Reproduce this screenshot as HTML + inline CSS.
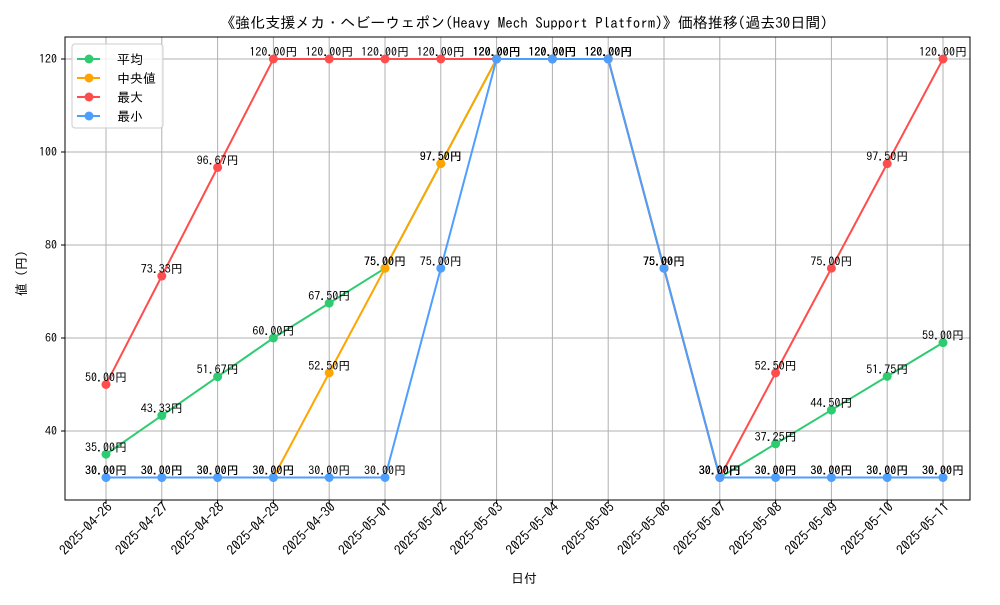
<!DOCTYPE html>
<html><head><meta charset="utf-8"><style>
body{margin:0;background:#fff;}
svg text{font-family:"IPAGothic","Liberation Sans","Noto Sans CJK JP",sans-serif;}
</style></head><body>
<svg id="chart" width="1000" height="600" xmlns="http://www.w3.org/2000/svg">
<rect width="1000" height="600" fill="#fff"/>
<text x="524" y="28" font-size="15" text-anchor="middle">《強化支援メカ・ヘビーウェポン(Heavy Mech Support Platform)》価格推移(過去30日間)</text>
<text x="524" y="583" font-size="13" text-anchor="middle">日付</text>
<text transform="translate(26,270) rotate(-90)" font-size="13" text-anchor="middle">値（円）</text>
<g id="grid"></g><g id="series"></g><g id="labels"></g>
<rect x="65" y="37" width="905" height="463" fill="none" stroke="#000" stroke-width="1"/>
<g id="legend">
<rect x="72" y="44" width="91" height="84" rx="3" fill="#fff" fill-opacity="0.8" stroke="#ccc"/>
</g>
</svg>
<script>
const dates=["2025-04-26","2025-04-27","2025-04-28","2025-04-29","2025-04-30","2025-05-01","2025-05-02","2025-05-03","2025-05-04","2025-05-05","2025-05-06","2025-05-07","2025-05-08","2025-05-09","2025-05-10","2025-05-11"];
const meanVals=[35,43.33,51.67,60,67.5,75,97.5,120,120,120,75,30,37.25,44.5,51.75,59];
const medianVals=[30,30,30,30,52.5,75,97.5,120,120,120,75,30,30,30,30,30];
const maxVals=[50,73.33,96.67,120,120,120,120,120,120,120,75,30,52.5,75,97.5,120];
const minVals=[30,30,30,30,30,30,75,120,120,120,75,30,30,30,30,30];
const yTicks=[40,60,80,100,120];
const seriesNames=["平均","中央値","最大","最小"];
const NS="http://www.w3.org/2000/svg";
function xs(i){return 106+i*(943-106)/(dates.length-1);}
function ys(v){return 59+(120-v)*(431-59)/80;}
function mk(t,a,p){const e=document.createElementNS(NS,t);for(const k in a)e.setAttribute(k,a[k]);p.appendChild(e);return e;}
const grid=document.getElementById('grid'),ser=document.getElementById('series'),lab=document.getElementById('labels'),leg=document.getElementById('legend');
dates.forEach((d,i)=>{const x=xs(i);
const g=mk('line',{x1:x,x2:x,y1:37,y2:500,stroke:'#b0b0b0','stroke-width':1},grid);


mk('line',{x1:x,x2:x,y1:500,y2:504,stroke:'#000'},grid);
const t=mk('text',{transform:`translate(${x+7},${508}) rotate(-45)`,'font-size':13.5,'text-anchor':'end'},grid);t.textContent=d;

});
yTicks.forEach(v=>{const y=ys(v);
const g=mk('line',{x1:65,x2:970,y1:y,y2:y,stroke:'#b0b0b0','stroke-width':1},grid);


mk('line',{x1:61,x2:65,y1:y,y2:y,stroke:'#000'},grid);
const t=mk('text',{x:57,y:y+4,'font-size':12,'text-anchor':'end'},grid);t.textContent=v;

});
const all=[[meanVals,'#2ecc71','mean'],[medianVals,'#ffa500','median'],[maxVals,'#ff4d4d','max'],[minVals,'#4d9fff','min']];
all.forEach(([vals,c,n],si)=>{
const pl=mk('polyline',{points:vals.map((v,i)=>xs(i)+','+ys(v)).join(' '),fill:'none',stroke:c,'stroke-width':2},ser);


vals.forEach((v,i)=>{const p=mk('circle',{cx:xs(i),cy:ys(v),r:4.5,fill:c},ser);


const t=mk('text',{x:xs(i),y:ys(v)-3,'font-size':12,'text-anchor':'middle'},lab);t.textContent=v.toFixed(2)+'円';

});
const ly=59+si*19;
mk('line',{x1:77,x2:100,y1:ly,y2:ly,stroke:c,'stroke-width':2},leg);
mk('circle',{cx:89,cy:ly,r:4.5,fill:c},leg);
const lt=mk('text',{x:117,y:ly+5,'font-size':13},leg);lt.textContent=seriesNames[si];


});
</script>
</body></html>
